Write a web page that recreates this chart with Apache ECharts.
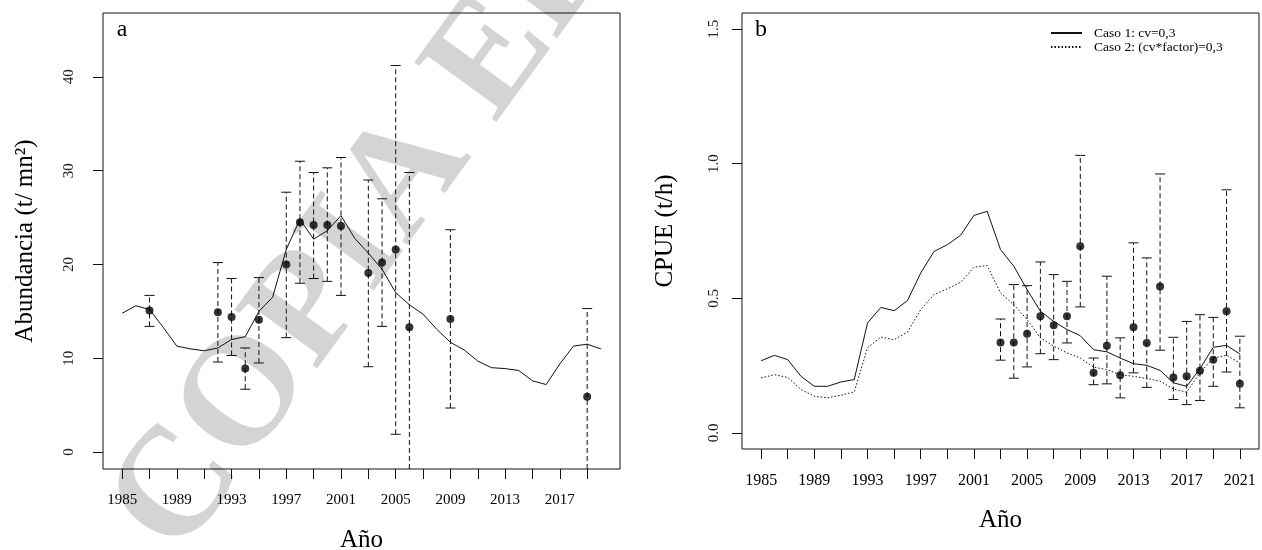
<!DOCTYPE html>
<html>
<head>
<meta charset="utf-8">
<script src="https://cdn.jsdelivr.net/npm/echarts@6/dist/echarts.min.js"></script>
<style>
  html, body { margin: 0; padding: 0; background: #ffffff; }
  #chart { width: 1262px; height: 550px; }
</style>
</head>
<body>
<div id="chart"></div>
<script>
// ---- Panel a: abundance (model trajectory and survey estimates) ----
const yearsA = [1985, 1986, 1987, 1988, 1989, 1990, 1991, 1992, 1993, 1994, 1995, 1996,
  1997, 1998, 1999, 2000, 2001, 2002, 2003, 2004, 2005, 2006, 2007, 2008,
  2009, 2010, 2011, 2012, 2013, 2014, 2015, 2016, 2017, 2018, 2019, 2020];
const abundModelA = [14.8, 15.6, 15.2, 13.3, 11.3, 11.0, 10.8, 11.1, 12.0, 12.3, 15.0, 16.5,
  21.6, 24.8, 22.7, 23.6, 25.2, 22.8, 21.2, 19.5, 17.0, 15.7, 14.7, 13.1,
  11.7, 10.9, 9.7, 9.0, 8.9, 8.7, 7.6, 7.2, 9.4, 11.3, 11.5, 11.0];
const obsYearsA = [1987, 1992, 1993, 1994, 1995, 1997, 1998, 1999, 2000, 2001, 2003, 2004, 2005, 2006, 2009, 2019];
const obsA = [15.1, 14.9, 14.4, 8.9, 14.1, 20.0, 24.5, 24.2, 24.2, 24.1, 19.1, 20.2, 21.6, 13.3, 14.2, 5.9];
const lowA = [13.4, 9.6, 10.3, 6.7, 9.5, 12.2, 18.0, 18.5, 18.2, 16.7, 9.1, 13.4, 1.9, -3.2, 4.7, -3.5];
const upA  = [16.7, 20.2, 18.5, 11.1, 18.6, 27.7, 31.0, 29.8, 30.3, 31.4, 29.0, 27.0, 41.2, 29.8, 23.7, 15.3];
const xTicksA = [1985, 1987, 1989, 1991, 1993, 1995, 1997, 1999, 2001, 2003, 2005, 2007, 2009, 2011, 2013, 2015, 2017, 2019];
const xLabelsA = [1985, 1989, 1993, 1997, 2001, 2005, 2009, 2013, 2017];
const yTicksA = [0, 10, 20, 30, 40];

// ---- Panel b: CPUE (two scenarios and observed index) ----
const yearsB = [1985, 1986, 1987, 1988, 1989, 1990, 1991, 1992, 1993, 1994, 1995, 1996,
  1997, 1998, 1999, 2000, 2001, 2002, 2003, 2004, 2005, 2006, 2007, 2008,
  2009, 2010, 2011, 2012, 2013, 2014, 2015, 2016, 2017, 2018, 2019, 2020, 2021];
const caso1 = [0.268, 0.288, 0.272, 0.210, 0.173, 0.173, 0.189, 0.198, 0.408, 0.466, 0.454, 0.491,
  0.594, 0.674, 0.699, 0.734, 0.808, 0.823, 0.681, 0.619, 0.532, 0.452, 0.414, 0.384,
  0.361, 0.309, 0.301, 0.278, 0.257, 0.251, 0.232, 0.186, 0.173, 0.238, 0.318, 0.325, 0.293];
const caso2 = [0.204, 0.216, 0.206, 0.161, 0.136, 0.130, 0.140, 0.152, 0.316, 0.356, 0.346, 0.374,
  0.458, 0.514, 0.535, 0.559, 0.615, 0.622, 0.520, 0.476, 0.421, 0.353, 0.322, 0.297,
  0.278, 0.244, 0.235, 0.216, 0.210, 0.202, 0.192, 0.163, 0.151, 0.223, 0.278, 0.288, 0.260];
const obsYearsB = [2003, 2004, 2005, 2006, 2007, 2008, 2009, 2010, 2011, 2012, 2013, 2014,
  2015, 2016, 2017, 2018, 2019, 2020, 2021];
const obsB = [0.336, 0.336, 0.368, 0.433, 0.400, 0.433, 0.693, 0.223, 0.324, 0.214, 0.392, 0.334,
  0.544, 0.206, 0.210, 0.231, 0.272, 0.452, 0.182];
const lowB = [0.270, 0.203, 0.245, 0.294, 0.272, 0.334, 0.468, 0.179, 0.182, 0.130, 0.223, 0.169,
  0.307, 0.124, 0.105, 0.120, 0.173, 0.226, 0.093];
const upB  = [0.423, 0.551, 0.547, 0.635, 0.588, 0.563, 1.031, 0.278, 0.582, 0.353, 0.706, 0.650,
  0.962, 0.355, 0.414, 0.439, 0.429, 0.903, 0.359];
const xTicksB = [1985, 1987, 1989, 1991, 1993, 1995, 1997, 1999, 2001, 2003, 2005, 2007, 2009,
  2011, 2013, 2015, 2017, 2019, 2021];
const xLabelsB = [1985, 1989, 1993, 1997, 2001, 2005, 2009, 2013, 2017, 2021];
const yTicksB = [0, 0.5, 1.0, 1.5];

const seriesNames = ['Caso 1: cv=0,3', 'Caso 2: (cv*factor)=0,3'];

const SERIF = '"Liberation Serif", "Times New Roman", serif';
const INK = '#111111';

// Dashed interval with dashed end caps, clipped to the plotting box.
function errorBarItem(params, api) {
  const cs = params.coordSys;
  const top = cs.y, bottom = cs.y + cs.height;
  const x = api.value(0);
  const pLo = api.coord([x, api.value(1)]);
  const pHi = api.coord([x, api.value(2)]);
  const px = pLo[0];
  const style = { stroke: INK, lineWidth: 1, lineDash: [5, 3], fill: null };
  const children = [{
    type: 'line',
    shape: { x1: px, y1: Math.min(pLo[1], bottom), x2: px, y2: Math.max(pHi[1], top) },
    style: style
  }];
  const half = 6;
  [pLo[1], pHi[1]].forEach(function (py) {
    if (py >= top && py <= bottom) {
      children.push({ type: 'line', shape: { x1: px, y1: py, x2: px - half, y2: py }, style: style });
      children.push({ type: 'line', shape: { x1: px, y1: py, x2: px + half, y2: py }, style: style });
    }
  });
  return { type: 'group', children: children };
}

function yearAxis(gridIndex, min, max, ticks, labels, fontSize, margin) {
  return {
    type: 'value', gridIndex: gridIndex, min: min, max: max, position: 'bottom',
    axisLine: { show: false, onZero: false },
    splitLine: { show: false },
    axisTick: { show: true, inside: false, length: 10, customValues: ticks, lineStyle: { color: INK, width: 1 } },
    axisLabel: {
      customValues: labels, margin: margin, color: '#000',
      fontFamily: SERIF, fontSize: fontSize,
      formatter: function (v) { return String(v); }
    }
  };
}

function valueAxis(gridIndex, min, max, ticks, margin, fmt) {
  return {
    type: 'value', gridIndex: gridIndex, min: min, max: max, position: 'left',
    axisLine: { show: false, onZero: false },
    splitLine: { show: false },
    axisTick: { show: true, inside: false, length: 10, customValues: ticks, lineStyle: { color: INK, width: 1 } },
    axisLabel: {
      customValues: ticks, rotate: 90, margin: margin, color: '#222',
      fontFamily: SERIF, fontSize: 15, formatter: fmt
    }
  };
}

const chart = echarts.init(document.getElementById('chart'), null, { renderer: 'canvas' });

chart.setOption({
  backgroundColor: '#ffffff',
  animation: false,
  color: [INK],
  grid: [
    { left: 103, top: 13, width: 517, height: 456, show: true, borderColor: INK, borderWidth: 1, backgroundColor: 'transparent' },
    { left: 742, top: 13, width: 517, height: 436, show: true, borderColor: INK, borderWidth: 1, backgroundColor: 'transparent' }
  ],
  xAxis: [
    yearAxis(0, 1983.6, 2021.4, xTicksA, xLabelsA, 15, 24),
    yearAxis(1, 1983.56, 2022.44, xTicksB, xLabelsB, 16, 24)
  ],
  yAxis: [
    valueAxis(0, -1.8, 46.8, yTicksA, 26, function (v) { return String(v); }),
    valueAxis(1, -0.06, 1.56, yTicksB, 20, function (v) { return v.toFixed(1); })
  ],
  legend: {
    data: seriesNames,
    orient: 'vertical',
    left: 1050, top: 26,
    padding: 0,
    itemWidth: 31, itemHeight: 14, itemGap: 0,
    selectedMode: false,
    itemStyle: { opacity: 0 },
    textStyle: { fontFamily: SERIF, fontSize: 13.5, color: '#000', padding: [0, 0, 0, 7] }
  },
  graphic: [
    {
      type: 'text', x: 146, y: 536, rotation: 54 * Math.PI / 180, z: -10, silent: true,
      style: { text: 'COPIA ELECTRÓNICA', font: 'bold 155px "Liberation Serif"', fill: '#d4d4d4', align: 'left', verticalAlign: 'middle' }
    },
    { type: 'text', x: 122, y: 30, style: { text: 'a', font: '24px "Liberation Serif"', fill: '#000', align: 'center', verticalAlign: 'middle' } },
    { type: 'text', x: 761, y: 30, style: { text: 'b', font: '24px "Liberation Serif"', fill: '#000', align: 'center', verticalAlign: 'middle' } },
    { type: 'text', x: 361.5, y: 540, style: { text: 'Año', font: '25px "Liberation Serif"', fill: '#000', align: 'center', verticalAlign: 'middle' } },
    { type: 'text', x: 1000.5, y: 520, style: { text: 'Año', font: '25px "Liberation Serif"', fill: '#000', align: 'center', verticalAlign: 'middle' } },
    { type: 'text', x: 25, y: 241, rotation: Math.PI / 2, style: { text: 'Abundancia (t/ mn²)', font: '25px "Liberation Serif"', fill: '#000', align: 'center', verticalAlign: 'middle' } },
    { type: 'text', x: 665, y: 231, rotation: Math.PI / 2, style: { text: 'CPUE (t/h)', font: '25px "Liberation Serif"', fill: '#000', align: 'center', verticalAlign: 'middle' } }
  ],
  series: [
    {
      type: 'line', name: 'Abundancia modelo', xAxisIndex: 0, yAxisIndex: 0,
      data: yearsA.map(function (y, i) { return [y, abundModelA[i]]; }),
      symbol: 'none', itemStyle: { color: INK }, lineStyle: { color: INK, width: 1 }, z: 3
    },
    {
      type: 'custom', name: 'IC abundancia', xAxisIndex: 0, yAxisIndex: 0,
      data: obsYearsA.map(function (y, i) { return [y, lowA[i], upA[i]]; }),
      encode: { x: 0, y: [1, 2] }, renderItem: errorBarItem, z: 2
    },
    {
      type: 'scatter', name: 'Abundancia observada', xAxisIndex: 0, yAxisIndex: 0,
      data: obsYearsA.map(function (y, i) { return [y, obsA[i]]; }),
      symbol: 'circle', symbolSize: 8, itemStyle: { color: '#000' }, z: 4
    },
    {
      type: 'line', name: seriesNames[0], xAxisIndex: 1, yAxisIndex: 1,
      data: yearsB.map(function (y, i) { return [y, caso1[i]]; }),
      symbol: 'none', itemStyle: { color: INK }, lineStyle: { color: INK, width: 1, type: 'solid' }, z: 3
    },
    {
      type: 'line', name: seriesNames[1], xAxisIndex: 1, yAxisIndex: 1,
      data: yearsB.map(function (y, i) { return [y, caso2[i]]; }),
      symbol: 'none', itemStyle: { color: INK }, lineStyle: { color: INK, width: 1, type: [1.5, 2] }, z: 3
    },
    {
      type: 'custom', name: 'IC CPUE', xAxisIndex: 1, yAxisIndex: 1,
      data: obsYearsB.map(function (y, i) { return [y, lowB[i], upB[i]]; }),
      encode: { x: 0, y: [1, 2] }, renderItem: errorBarItem, z: 2
    },
    {
      type: 'scatter', name: 'CPUE observada', xAxisIndex: 1, yAxisIndex: 1,
      data: obsYearsB.map(function (y, i) { return [y, obsB[i]]; }),
      symbol: 'circle', symbolSize: 8, itemStyle: { color: '#000' }, z: 4
    }
  ]
});
</script>
</body>
</html>
